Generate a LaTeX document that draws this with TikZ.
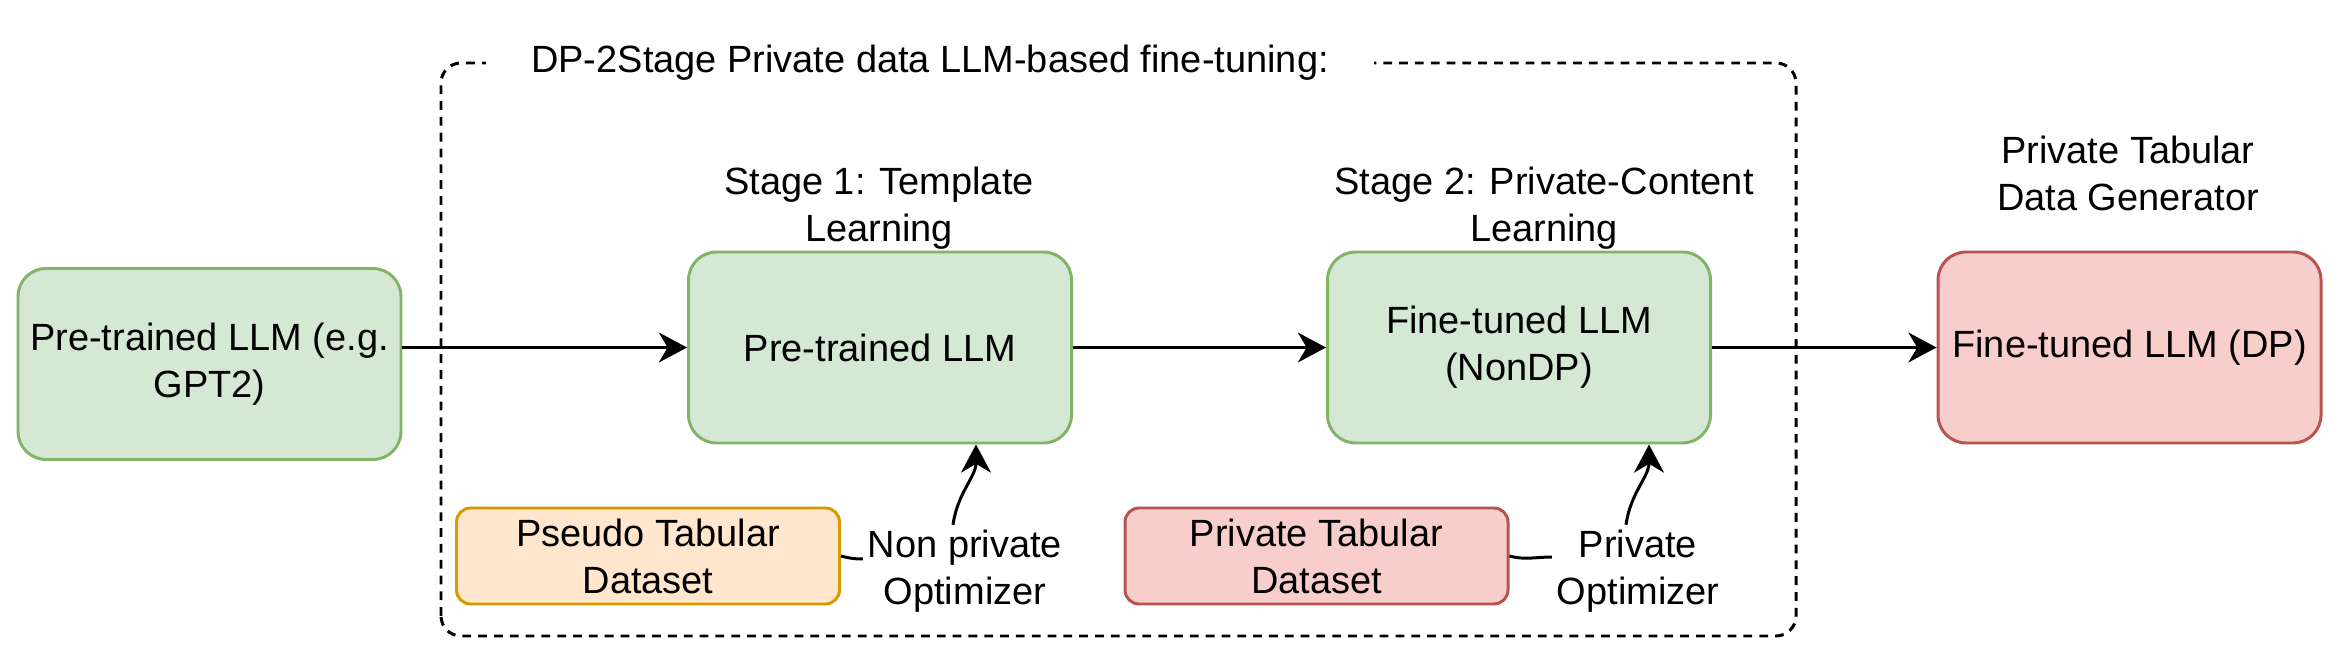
\documentclass[tikz,border=0pt]{standalone}
\usepackage{fontspec}
\setmainfont{Liberation Sans}
\usetikzlibrary{arrows.meta}
\definecolor{llmfill}{HTML}{D5E8D4}
\definecolor{llmline}{HTML}{82B366}
\definecolor{dpfill}{HTML}{F8CECC}
\definecolor{dpline}{HTML}{B85450}
\definecolor{pseudofill}{HTML}{FFE6CC}
\definecolor{pseudoline}{HTML}{D79B00}

\begin{document}
\begin{tikzpicture}[font=\fontsize{10.8}{13.4}\selectfont,line width=0.85pt,
  llmbox/.style={rounded corners=0.28cm,minimum width=3.83cm,minimum height=1.91cm,align=center,inner sep=0pt},
  databox/.style={rounded corners=0.14cm,minimum width=3.83cm,minimum height=0.96cm,align=center,inner sep=0pt},
  note/.style={align=center,inner sep=1pt},
  flow/.style={-{Stealth[length=8pt,width=8.5pt,inset=2.5pt]}}]
  \useasboundingbox (0,0) rectangle (23.46,6.58);

  % Dashed frame (two stages)
  \draw[dash pattern=on 2.5pt off 2pt,rounded corners=0.2cm] (4.41,0.22) rectangle (17.96,5.95);
  \node[fill=white,inner xsep=0.45cm,inner ysep=2pt] (title) at (9.30,5.95) {DP-2Stage Private data LLM-based fine-tuning:};

  % Input model
  \node[llmbox,draw=llmline,fill=llmfill] (pre) at (2.095,2.94) {Pre-trained LLM (e.g.\\GPT2)};

  % Stage 1
  \node[note] (stage1) at (8.79,4.50) {Stage 1: Template\\Learning};
  \node[llmbox,draw=llmline,fill=llmfill] (base) at (8.80,3.105) {Pre-trained LLM};
  \node[databox,draw=pseudoline,fill=pseudofill] (pseudo) at (6.48,1.02) {Pseudo Tabular\\Dataset};
  \node[note] (nonpriv) at (9.65,0.87) {Non private\\Optimizer};

  % Stage 2
  \node[note] (stage2) at (15.44,4.50) {Stage 2: Private-Content\\Learning};
  \node[llmbox,draw=llmline,fill=llmfill] (nondp) at (15.19,3.105) {Fine-tuned LLM\\(NonDP)};
  \node[databox,draw=dpline,fill=dpfill] (privdata) at (13.165,1.02) {Private Tabular\\Dataset};
  \node[note] (privopt) at (16.38,0.87) {Private\\Optimizer};

  % Output model
  \node[note] (gen) at (21.28,4.85) {Private Tabular\\Data Generator};
  \node[llmbox,draw=dpline,fill=dpfill] (dp) at (21.295,3.105) {Fine-tuned LLM (DP)};

  % Connectors
  \draw[flow] (pre.east |- base.west) -- (base.west);
  \draw[flow] (base) -- (nondp);
  \draw[flow] (nondp) -- (dp);
  \draw (pseudo.east) to[out=-15,in=180] ([yshift=0.12cm]nonpriv.west);
  \draw[flow] ([xshift=-0.12cm]nonpriv.north) to[out=82,in=-90] ([xshift=0.96cm]base.south);
  \draw (privdata.east) to[out=-15,in=180] ([yshift=0.14cm]privopt.west);
  \draw[flow] ([xshift=-0.12cm]privopt.north) to[out=82,in=-90] ([xshift=1.30cm]nondp.south);
\end{tikzpicture}
\end{document}
